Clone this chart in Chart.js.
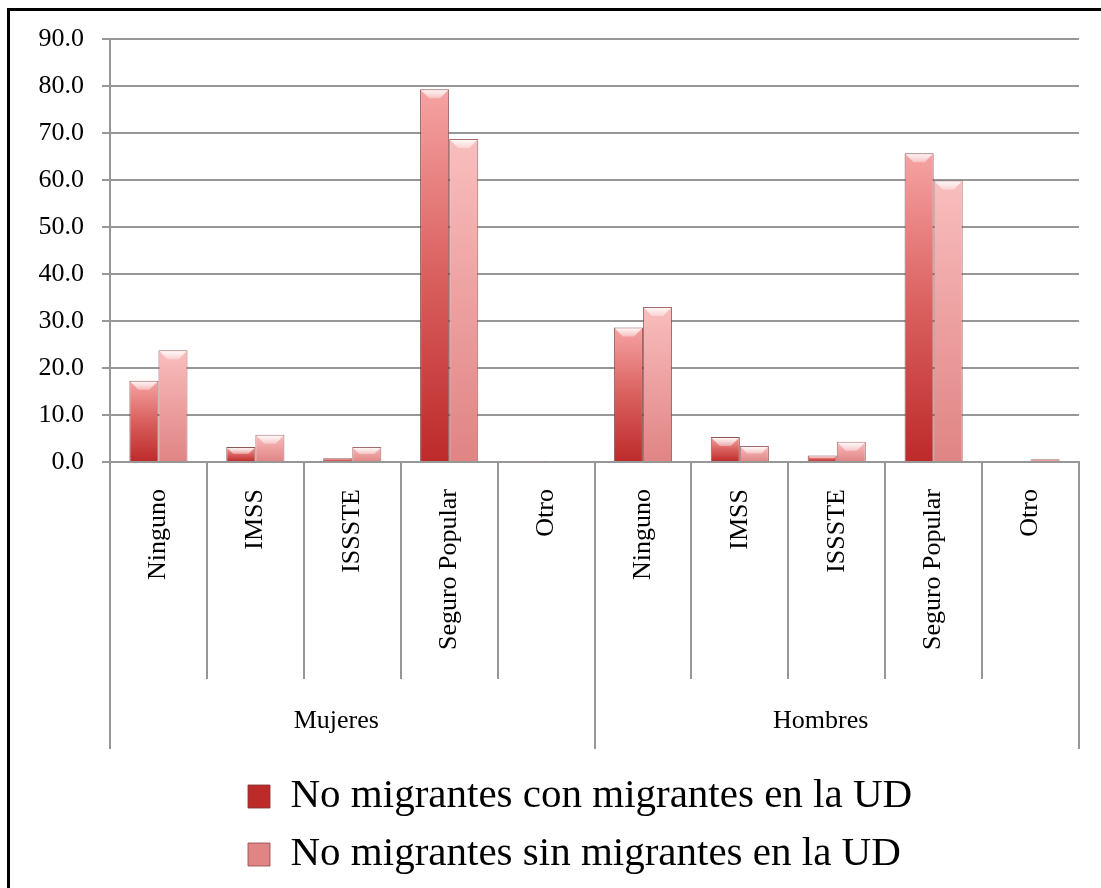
<!DOCTYPE html>
<html lang="es">
	<head>
		<meta charset="utf-8">
		<title>No migrantes - derechohabiencia</title>
		<script src="https://cdn.jsdelivr.net/npm/chart.js"></script>
		<style>
			html, body { margin: 0; padding: 0; background: #fff; overflow: hidden; }
			#wrap { position: relative; width: 1101px; height: 888px; }
			#frame { position: absolute; left: 7px; top: 8px; width: 1200px; height: 1000px; border: 3px solid #000; pointer-events: none; }
		</style>
	</head>
	<body>
		<div id="wrap">
			<canvas id="chart"></canvas>
			<div id="frame"></div>
		</div>
		<script>
			const categories = ["Ninguno", "IMSS", "ISSSTE", "Seguro Popular", "Otro", "Ninguno", "IMSS", "ISSSTE", "Seguro Popular", "Otro"]
			const groups = ["Mujeres", "Hombres"]
			const conMigrantes = [17.3, 3.2, 0.8, 79.3, 0.1, 28.6, 5.3, 1.4, 65.7, 0.0]
			const sinMigrantes = [23.8, 5.8, 3.2, 68.7, 0.0, 33.0, 3.4, 4.3, 59.9, 0.6]
			const seriesNames = ["No migrantes con migrantes en la UD", "No migrantes sin migrantes en la UD"]
			const yTicks = [0, 10, 20, 30, 40, 50, 60, 70, 80, 90]

			const gridColor = "#979797"
			Chart.defaults.font.family = "'Liberation Serif', 'DejaVu Serif', serif"
			Chart.defaults.color = "#000"

			function barFill(bottomCol, midCol, topCol, flat) {
				return ctx => {
					const chart = ctx.chart
					if (ctx.type !== "data" || !chart.chartArea) return flat
					const y = chart.scales.y
					const top = y.getPixelForValue(ctx.parsed.y)
					const bottom = y.getPixelForValue(0)
					if (bottom - top < 1) return topCol
					const g = chart.ctx.createLinearGradient(0, bottom, 0, top)
					g.addColorStop(0, bottomCol)
					g.addColorStop(0.5, midCol)
					g.addColorStop(1, topCol)
					return g
				}
			}

			// light bevel on top of each bar
			const bevel = {
				id: "bevel",
				afterDatasetsDraw(chart) {
					const c = chart.ctx
					chart.data.datasets.forEach((ds, i) => {
						chart.getDatasetMeta(i).data.forEach(bar => {
							const h = bar.base - bar.y
							if (h < 3) return
							const x0 = bar.x - bar.width / 2, x1 = bar.x + bar.width / 2
							const b = Math.min(9, h / 2)
							c.save()
							const g = c.createLinearGradient(0, bar.y, 0, bar.y + b)
							g.addColorStop(0, "rgba(255,255,255,0.95)")
							g.addColorStop(1, "rgba(255,255,255,0.35)")
							c.fillStyle = g
							c.beginPath()
							c.moveTo(x0 + 1, bar.y + 1)
							c.lineTo(x1 - 1, bar.y + 1)
							c.lineTo(x1 - b, bar.y + b)
							c.lineTo(x0 + b, bar.y + b)
							c.closePath()
							c.fill()
							c.restore()
						})
					})
				}
			}

			// legend rows start left-aligned under the plot, like the original
			const shiftLegend = {
				id: "shiftLegend",
				afterLayout(chart) {
					chart.legend.left += 231
					chart.legend.right += 231
				}
			}

			new Chart(document.getElementById("chart").getContext("2d"), {
				type: "bar",
				data: {
					labels: categories,
					datasets: [{
						label: seriesNames[0],
						data: conMigrantes,
						backgroundColor: barFill("#bd2a2a", "#d9605e", "#f6a3a3", "#d05a58"),
						borderColor: "rgba(125,55,55,0.85)",
						borderWidth: 1,
						categoryPercentage: 0.6,
						barPercentage: 1.0
					}, {
						label: seriesNames[1],
						data: sinMigrantes,
						backgroundColor: barFill("#e08484", "#eda0a0", "#f9bebe", "#eea5a5"),
						borderColor: "rgba(140,70,70,0.8)",
						borderWidth: 1,
						categoryPercentage: 0.6,
						barPercentage: 1.0
					}]
				},
				options: {
					responsive: true,
					maintainAspectRatio: false,
					animation: false,
					layout: {
						padding: {left: 0, right: 22, top: 39, bottom: 3}
					},
					scales: {
						y: {
							min: 0,
							max: 90,
							afterFit: s => { s.width = 110 },
							afterBuildTicks: s => { s.ticks = yTicks.map(v => ({value: v})) },
							ticks: {
								padding: 18,
								font: {size: 26},
								callback: v => v.toFixed(1)
							},
							grid: {color: gridColor, lineWidth: 2, tickLength: 8},
							border: {color: gridColor, width: 2}
						},
						x: {
							offset: true,
							afterFit: s => { s.height = 217 },
							ticks: {
								minRotation: 90,
								maxRotation: 90,
								autoSkip: false,
								padding: -190,
								font: {size: 26}
							},
							grid: {offset: true, drawOnChartArea: false, color: gridColor, lineWidth: 2, tickLength: 217},
							border: {color: gridColor, width: 2}
						},
						x2: {
							type: "category",
							position: "bottom",
							labels: groups,
							offset: true,
							afterFit: s => { s.height = 80 },
							ticks: {
								padding: -43,
								labelOffset: -16,
								font: {size: 26}
							},
							grid: {offset: true, drawOnChartArea: false, color: gridColor, lineWidth: 2, tickLength: 70},
							border: {display: false}
						}
					},
					plugins: {
						legend: {
							position: "bottom",
							align: "start",
							labels: {
								boxWidth: 22,
								boxHeight: 23,
								padding: 17,
								font: {size: 41},
								color: "#000"
							}
						},
						tooltip: {enabled: false}
					}
				},
				plugins: [bevel, shiftLegend]
			})
		</script>
	</body>
</html>
